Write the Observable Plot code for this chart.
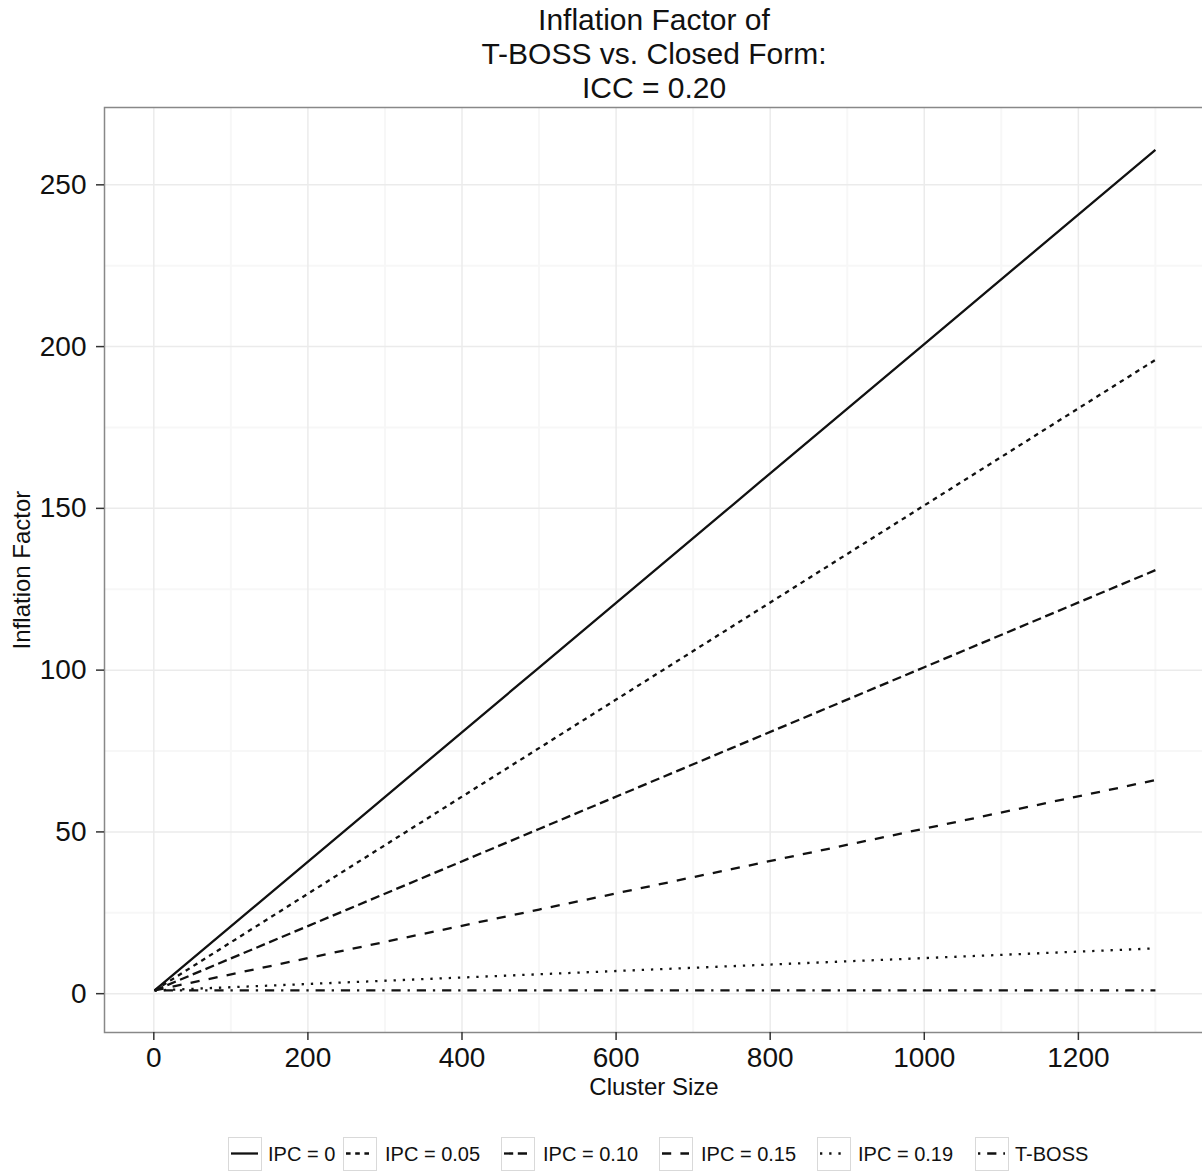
<!DOCTYPE html>
<html>
<head>
<meta charset="utf-8">
<script src="https://cdn.jsdelivr.net/npm/d3@7"></script>
<script src="https://cdn.jsdelivr.net/npm/@observablehq/plot@0.6"></script>
<style>
  html, body { margin: 0; padding: 0; background: #fff; overflow: hidden; }
  body { width: 1202px; height: 1176px; position: relative; font-family: "Liberation Sans", Arial, Helvetica, sans-serif; }
  #chart { position: absolute; left: 0; top: 0; z-index: 0; }
  #chart svg { max-width: none !important; }
  .title { position: absolute; z-index: 2; left: 454px; width: 400px; text-align: center; font-size: 30px; color: #111; line-height: 34px; top: 3px; }
  .ytitle { position: absolute; z-index: 2; left: 22px; top: 570px; transform: translate(-50%, -50%) rotate(-90deg); font-size: 24px; color: #111; white-space: nowrap; }
  .xtitle { position: absolute; z-index: 2; left: 654px; top: 1087px; transform: translate(-50%, -50%); font-size: 24px; color: #111; white-space: nowrap; }
  .legend { position: absolute; z-index: 2; left: 0; top: 0; }
  .legend .key { position: absolute; top: 1137px; width: 34px; height: 34px; box-sizing: border-box; border: 1.5px solid #d9d9d9; background: #fff; }
  .legend .lab { position: absolute; top: 1154px; transform: translateY(-50%); font-size: 20px; color: #111; white-space: nowrap; }
</style>
</head>
<body>
<div id="chart"></div>
<div class="title">Inflation Factor of<br>T-BOSS vs. Closed Form:<br>ICC = 0.20</div>
<div class="ytitle">Inflation Factor</div>
<div class="xtitle">Cluster Size</div>
<div class="legend" id="legend"></div>
<script>
// ---- data ----
const clusterSize = [1, 250, 500, 750, 1000, 1300];
const seriesNames = ["IPC = 0", "IPC = 0.05", "IPC = 0.10", "IPC = 0.15", "IPC = 0.19", "T-BOSS"];
const ipc0   = [1, 50.8, 100.8, 150.8, 200.8, 260.8];
const ipc005 = [1, 38.4, 75.9, 113.4, 150.9, 195.9];
const ipc010 = [1, 25.9, 50.9, 75.9, 100.9, 130.9];
const ipc015 = [1, 13.5, 26.0, 38.5, 51.0, 66.0];
const ipc019 = [1, 3.5, 6.0, 8.5, 11.0, 14.0];
const tboss  = [1, 1.0, 1.0, 1.0, 1.0, 1.0];
const xTicks = [0, 200, 400, 600, 800, 1000, 1200];
const xMinor = [100, 300, 500, 700, 900, 1100, 1300];
const yTicks = [0, 50, 100, 150, 200, 250];
const yMinor = [25, 75, 125, 175, 225];

const seriesValues = [ipc0, ipc005, ipc010, ipc015, ipc019, tboss];
const dashes = [null, "4.6,4.6", "9.2,4.6", "9.2,9.2", "2.3,6.9", "2.3,6.9,9.2,6.9"];

const data = [];
seriesNames.forEach((name, i) => {
  clusterSize.forEach((m, j) => data.push({series: name, m, v: seriesValues[i][j]}));
});

const lineMarks = seriesNames.map((name, i) => Plot.line(data.filter(d => d.series === name), {
  x: "m", y: "v", stroke: "#111", strokeWidth: 2.3,
  strokeDasharray: dashes[i] || undefined, strokeLinecap: "butt", strokeLinejoin: "round"
}));

const chart = Plot.plot({
  width: 1206,
  height: 1176,
  marginTop: 107,
  marginBottom: 144,
  marginLeft: 104,
  marginRight: 1,
  style: {fontFamily: '"Liberation Sans", Arial, Helvetica, sans-serif', background: "#fff", maxWidth: "none"},
  x: {domain: [-64, 1365]},
  y: {domain: [-12.0, 273.9]},
  marks: [
    Plot.ruleX(xMinor, {stroke: "#f7f7f7", strokeWidth: 2}),
    Plot.ruleY(yMinor, {stroke: "#f7f7f7", strokeWidth: 2}),
    Plot.ruleX(xTicks, {stroke: "#ebebeb", strokeWidth: 1.5}),
    Plot.ruleY(yTicks, {stroke: "#ebebeb", strokeWidth: 1.5}),
    ...lineMarks,
    Plot.frame({stroke: "#888", strokeWidth: 1.5}),
    Plot.axisX(xTicks, {tickSize: 8, tickPadding: 7, fontSize: 28, tickFormat: d3.format("d"), stroke: "#333", strokeWidth: 1.5, color: "#111", label: null}),
    Plot.axisY(yTicks, {tickSize: 8, tickPadding: 10, fontSize: 28, tickFormat: d3.format("d"), stroke: "#333", strokeWidth: 1.5, color: "#111", label: null})
  ]
});
chart.querySelectorAll("text").forEach(t => t.setAttribute("fill", "#111"));
document.getElementById("chart").appendChild(chart);

// ---- legend ----
const keyX = [228, 343, 501, 659, 817, 975];
const labX = [268, 385, 543, 701, 858, 1015];
const leg = document.getElementById("legend");
seriesNames.forEach((name, i) => {
  const key = document.createElement("div");
  key.className = "key";
  key.style.left = keyX[i] + "px";
  const svgNS = "http://www.w3.org/2000/svg";
  const svg = document.createElementNS(svgNS, "svg");
  svg.setAttribute("width", "31");
  svg.setAttribute("height", "31");
  svg.style.display = "block";
  const ln = document.createElementNS(svgNS, "line");
  ln.setAttribute("x1", "2"); ln.setAttribute("x2", "29");
  ln.setAttribute("y1", "15.5"); ln.setAttribute("y2", "15.5");
  ln.setAttribute("stroke", "#111");
  ln.setAttribute("stroke-width", "2.3");
  if (dashes[i]) ln.setAttribute("stroke-dasharray", dashes[i]);
  svg.appendChild(ln);
  key.appendChild(svg);
  leg.appendChild(key);
  const lab = document.createElement("div");
  lab.className = "lab";
  lab.style.left = labX[i] + "px";
  lab.textContent = name;
  leg.appendChild(lab);
});
</script>
</body>
</html>
